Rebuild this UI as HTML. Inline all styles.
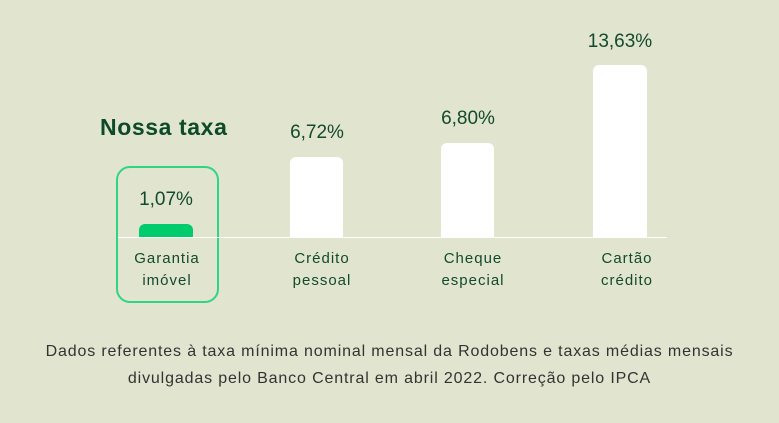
<!DOCTYPE html>
<html><head><style>
body{margin:0;width:779px;height:423px;background:#e1e5cf;font-family:"Liberation Sans",sans-serif;position:relative;overflow:hidden}
.a{position:absolute}
.bar{position:absolute;background:#fff;border-radius:6px 6px 0 0}
.v{position:absolute;width:140px;text-align:center;font-size:19px;color:#124a2c}
.c{position:absolute;width:140px;text-align:center;font-size:15px;line-height:22px;color:#124a2c;letter-spacing:1px;top:248px}
</style></head><body>
<div class="a" style="left:100px;top:114px;font-size:23px;font-weight:bold;color:#0d4a28;letter-spacing:0.6px">Nossa taxa</div>
<div class="a" style="left:116px;top:166px;width:99px;height:133px;border:2px solid #2fd580;border-radius:14px"></div>
<div class="a" style="left:118px;top:237px;width:549px;height:1px;background:#fff"></div>
<div class="bar" style="left:139px;top:224px;width:54px;height:13px;background:#00cc6e"></div>
<div class="bar" style="left:290px;top:157px;width:53px;height:80px"></div>
<div class="bar" style="left:441px;top:143px;width:53px;height:94px"></div>
<div class="bar" style="left:593px;top:65px;width:54px;height:172px"></div>
<div class="v" style="left:96px;top:189px">1,07%</div>
<div class="v" style="left:247px;top:122px">6,72%</div>
<div class="v" style="left:398px;top:108px">6,80%</div>
<div class="v" style="left:550px;top:31px">13,63%</div>
<div class="c" style="left:97px">Garantia<br>imóvel</div>
<div class="c" style="left:252px">Crédito<br>pessoal</div>
<div class="c" style="left:403px">Cheque<br>especial</div>
<div class="c" style="left:557px">Cartão<br>crédito</div>
<div class="a" style="left:0;top:338px;width:779px;text-align:center;font-size:16px;letter-spacing:0.85px;line-height:27px;color:#333">Dados referentes à taxa mínima nominal mensal da Rodobens e taxas médias mensais<br>divulgadas pelo Banco Central em abril 2022. Correção pelo IPCA</div>
</body></html>
